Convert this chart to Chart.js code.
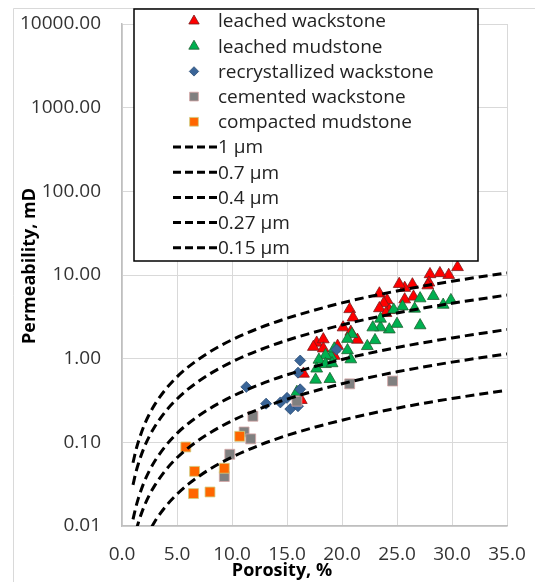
<!DOCTYPE html>
<html>
<head>
<meta charset="utf-8">
<script src="https://cdn.jsdelivr.net/npm/chart.js@4.4.1/dist/chart.umd.min.js"></script>
<style>
  body { margin: 0; background: #fff; }
  #wrap { width: 535px; height: 582px; }
</style>
</head>
<body>
<div id="wrap"><canvas id="chart" width="535" height="582"></canvas></div>
<script>
// porosity (%) , permeability (mD)
var leachedWackstone = [
    [30.5, 12.4], [29.7, 10.0], [28.9, 10.5], [28.0, 10.2], [27.9, 8.1], [27.8, 7.5],
    [26.4, 7.7], [25.7, 7.0], [25.2, 7.8], [26.5, 5.5], [25.7, 5.1], [23.4, 6.0],
    [24.1, 5.0], [23.8, 4.6], [23.4, 4.0], [24.3, 3.8], [24.0, 3.5], [20.7, 3.9],
    [21.0, 3.1], [20.1, 2.36], [20.8, 2.09], [21.4, 1.68], [17.7, 1.55], [18.3, 1.7],
    [17.4, 1.38], [18.3, 1.32], [19.6, 1.42], [19.3, 1.08], [16.5, 0.66], [16.3, 0.32]
];
var leachedMudstone = [
    [29.9, 5.0], [29.2, 4.4], [28.3, 5.6], [27.1, 5.25], [27.1, 2.5], [26.6, 3.95],
    [25.5, 4.2], [24.7, 3.85], [25.0, 2.6], [24.3, 2.23], [23.5, 2.36], [22.8, 2.36],
    [23.5, 3.0], [23.0, 1.66], [22.3, 1.41], [20.9, 1.96], [20.5, 1.72], [20.5, 1.26],
    [20.8, 0.98], [19.0, 1.07], [18.5, 1.1], [17.9, 0.97], [17.7, 0.76], [17.6, 0.56],
    [18.9, 0.57], [18.5, 0.86], [19.3, 1.32], [19.1, 0.88], [15.9, 0.40]
];
var recrystallizedWackstone = [
    [19.5, 1.29], [16.2, 0.95], [16.0, 0.68], [11.3, 0.46], [16.2, 0.43],
    [15.0, 0.34], [14.4, 0.30], [13.1, 0.29], [15.3, 0.25], [16.0, 0.27]
];
var cementedWackstone = [
    [24.6, 0.54], [20.7, 0.50], [15.9, 0.31], [11.9, 0.205], [11.1, 0.133],
    [11.7, 0.11], [9.8, 0.072], [9.3, 0.039]
];
var compactedMudstone = [
    [5.8, 0.088], [6.6, 0.045], [6.5, 0.0244], [8.0, 0.0255], [10.7, 0.118], [9.3, 0.049]
];

// pore throat radius curves, permeability read at these porosities
var curvePorosity = [1, 1.25, 1.5, 2, 2.5, 3, 4, 5, 6, 8, 10, 12.5, 15, 20, 25, 30, 35];
var curve1um   = [0.057, 0.079, 0.103, 0.158, 0.219, 0.286, 0.436, 0.606, 0.792, 1.21, 1.68, 2.33, 3.04, 4.64, 6.45, 8.43, 10.6];
var curve07um  = [0.031, 0.0431, 0.0563, 0.0859, 0.119, 0.156, 0.238, 0.330, 0.432, 0.659, 0.914, 1.27, 1.66, 2.53, 3.52, 4.59, 5.76];
var curve04um  = [0.012, 0.0166, 0.0217, 0.0332, 0.046, 0.0602, 0.0919, 0.128, 0.167, 0.254, 0.353, 0.490, 0.641, 0.978, 1.36, 1.77, 2.23];
var curve027um = [0.0061, 0.0085, 0.0111, 0.017, 0.0236, 0.0308, 0.0471, 0.0654, 0.0854, 0.130, 0.181, 0.251, 0.328, 0.501, 0.696, 0.909, 1.14];
var curve015um = [0.0023, 0.0031, 0.0041, 0.0063, 0.0087, 0.0114, 0.0173, 0.024, 0.0314, 0.048, 0.0666, 0.0924, 0.121, 0.184, 0.256, 0.334, 0.42];

var yTicks = [0.01, 0.1, 1, 10, 100, 1000, 10000];

function pts(list) {
    return list.map(function(p) { return { x: p[0], y: p[1] }; });
}
function curvePts(vals) {
    return curvePorosity.map(function(x, i) { return { x: x, y: vals[i] }; });
}

function markerSet(label, data, style, radius, bg, border, order) {
    return {
        label: label,
        data: pts(data),
        pointStyle: style,
        pointRadius: radius,
        pointHoverRadius: radius,
        backgroundColor: bg,
        borderColor: border,
        pointBorderWidth: 0.8,
        showLine: false,
        order: order
    };
}
function curveSet(label, vals, order) {
    return {
        label: label,
        data: curvePts(vals),
        showLine: true,
        pointRadius: 0,
        borderColor: '#000',
        borderWidth: 3,
        borderDash: [9, 5],
        cubicInterpolationMode: 'monotone',
        isCurve: true,
        order: order
    };
}

var datasets = [
    markerSet('leached wackstone', leachedWackstone, 'triangle', 6.8, '#FF0000', '#7A1A1A', 10),
    markerSet('leached mudstone', leachedMudstone, 'triangle', 6.8, '#00B050', '#1E5E30', 9),
    markerSet('recrystallized wackstone', recrystallizedWackstone, 'rectRot', 5.5, '#3A6598', '#2B4C75', 8),
    markerSet('cemented wackstone', cementedWackstone, 'rect', 7, '#808080', '#D4A4A4', 7),
    markerSet('compacted mudstone', compactedMudstone, 'rect', 7, '#FF6600', '#CFCF80', 6),
    curveSet('1 µm', curve1um, 5),
    curveSet('0.7 µm', curve07um, 4),
    curveSet('0.4 µm', curve04um, 3),
    curveSet('0.27 µm', curve027um, 2),
    curveSet('0.15 µm', curve015um, 1)
];

var FONT = '"Open Sans", "DejaVu Sans", sans-serif';

var decor = {
    id: 'decor',
    beforeDraw: function(chart) {
        var ctx = chart.ctx;
        ctx.save();
        ctx.fillStyle = '#fff';
        ctx.fillRect(0, 0, chart.width, chart.height);
        ctx.strokeStyle = '#D9D9D9';
        ctx.lineWidth = 1;
        ctx.beginPath();
        ctx.moveTo(13.5, chart.height);
        ctx.lineTo(13.5, 8.5);
        ctx.lineTo(chart.width, 8.5);
        ctx.stroke();
        ctx.restore();
    },
    afterDraw: function(chart) {
        var ctx = chart.ctx;
        ctx.save();

        // axis titles
        ctx.fillStyle = '#000';
        ctx.font = 'bold 18px ' + FONT;
        ctx.textAlign = 'center';
        ctx.textBaseline = 'middle';
        ctx.fillText('Porosity, %', 282, 571);
        ctx.save();
        ctx.translate(30, 266);
        ctx.rotate(-Math.PI / 2);
        ctx.fillText('Permeability, mD', 0, 0);
        ctx.restore();

        // legend box
        var bx = 134, by = 9, bw = 344, bh = 252;
        ctx.fillStyle = '#fff';
        ctx.fillRect(bx, by, bw, bh);
        ctx.strokeStyle = '#000';
        ctx.lineWidth = 1.5;
        ctx.strokeRect(bx, by, bw, bh);

        ctx.font = '19px ' + FONT;
        ctx.textAlign = 'left';
        ctx.textBaseline = 'middle';
        chart.data.datasets.forEach(function(ds, i) {
            var y = 21 + i * 25.2;
            if (ds.isCurve) {
                ctx.save();
                ctx.strokeStyle = '#000';
                ctx.lineWidth = 3;
                ctx.setLineDash([8, 4]);
                ctx.beginPath();
                ctx.moveTo(173, y);
                ctx.lineTo(217, y);
                ctx.stroke();
                ctx.restore();
            } else {
                ctx.save();
                ctx.fillStyle = ds.backgroundColor;
                ctx.strokeStyle = ds.borderColor;
                ctx.lineWidth = ds.pointBorderWidth;
                Chart.helpers.drawPoint(ctx, {
                    pointStyle: ds.pointStyle,
                    radius: ds.pointRadius - 0.8,
                    rotation: 0,
                    borderWidth: ds.pointBorderWidth
                }, 194, y);
                ctx.restore();
            }
            ctx.fillStyle = '#222';
            ctx.fillText(ds.label, 218, y + 1);
        });
        ctx.restore();
    }
};

var ctx = document.getElementById('chart').getContext('2d');
var chart = new Chart(ctx, {
    type: 'scatter',
    data: { datasets: datasets },
    options: {
        responsive: false,
        animation: false,
        devicePixelRatio: 1,
        layout: { padding: { left: 0, right: 28, top: 24, bottom: 0 } },
        plugins: {
            legend: { display: false },
            tooltip: { enabled: false }
        },
        scales: {
            x: {
                type: 'linear',
                min: 0,
                max: 35,
                ticks: {
                    stepSize: 5,
                    padding: 17,
                    color: '#333',
                    font: { family: FONT, size: 19 },
                    callback: function(v) { return Number(v).toFixed(1); }
                },
                grid: { color: '#D9D9D9', drawTicks: false },
                border: { color: '#BFBFBF', width: 1.5 },
                afterFit: function(scale) {
                    scale.height = 56;
                    scale.paddingLeft = 0;
                    scale.paddingRight = 0;
                }
            },
            y: {
                type: 'logarithmic',
                min: 0.01,
                max: 10000,
                afterBuildTicks: function(scale) {
                    scale.ticks = yTicks.map(function(v) { return { value: v }; });
                },
                ticks: {
                    padding: 21,
                    color: '#333',
                    font: { family: FONT, size: 19 },
                    callback: function(v) { return Number(v).toFixed(2); }
                },
                grid: { color: '#D9D9D9', drawTicks: false },
                border: { color: '#BFBFBF', width: 1.5 },
                afterFit: function(scale) {
                    scale.width = 122;
                    scale.paddingTop = 0;
                    scale.paddingBottom = 0;
                }
            }
        }
    },
    plugins: [decor]
});
</script>
</body>
</html>
